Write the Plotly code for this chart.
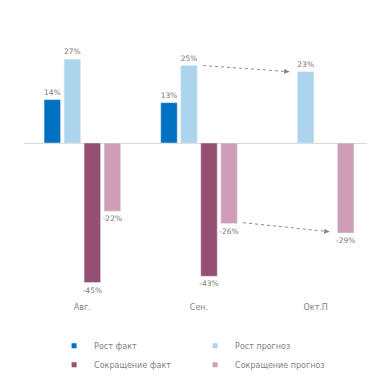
import plotly.graph_objects as go

categories = ["Авг.", "Сен.", "Окт.П"]
growth_fact = [14, 13, None]
growth_forecast = [27, 25, 23]
decline_fact = [-45, -43, None]
decline_forecast = [-22, -26, -29]

series_names = ["Рост факт", "Рост прогноз", "Сокращение факт", "Сокращение прогноз"]
series_values = [growth_fact, growth_forecast, decline_fact, decline_forecast]
colors = ["#0070C0", "#ABD5EC", "#954F72", "#CE9EB8"]

FONT = "DejaVu Sans"
TXT = "#7f7f7f"

x_idx = list(range(len(categories)))
fig = go.Figure()

for name, vals, col in zip(series_names, series_values, colors):
    fig.add_trace(go.Bar(
        x=x_idx, y=vals, name=name, marker_color=col, showlegend=False,
        text=[("" if v is None else f"{v}%") for v in vals],
        textposition="outside", cliponaxis=False, constraintext="none",
        textfont=dict(family=FONT, size=7.5, color="#777777"),
    ))
    fig.add_trace(go.Scatter(
        x=[None], y=[None], mode="markers", name=name,
        marker=dict(symbol="square", size=5, color=col),
    ))

# arrows between forecast bars (Sep -> Oct)
n = 4
slot = (1 - 0.314) / n
def bar_center(cat, series):
    return cat + (series - (n - 1) / 2) * slot

half = slot * (1 - 0.175) / 2
arrows = [
    (1, 1, growth_forecast[1], 2, 1, growth_forecast[2]),
    (1, 3, decline_forecast[1] + 0.3, 2, 3, decline_forecast[2] + 0.4),
]
for c0, s0, y0, c1, s1, y1 in arrows:
    x0 = bar_center(c0, s0) + half + 0.05
    x1 = bar_center(c1, s1) - half - 0.07
    fig.add_shape(type="line", x0=x0, y0=y0, x1=x1, y1=y1, xref="x", yref="y",
                  line=dict(color="#8c8c8c", width=1, dash="dot"))
    dx = (x1 - x0) * 0.05
    dy = (y1 - y0) * 0.05
    fig.add_annotation(x=x1, y=y1, ax=x1 - dx, ay=y1 - dy, axref="x", ayref="y",
                       xref="x", yref="y", text="", showarrow=True,
                       arrowhead=2, arrowsize=1, arrowwidth=1, arrowcolor="#7f7f7f",
                       standoff=0)

fig.update_layout(
    width=367, height=381,
    margin=dict(l=16, r=1, t=11, b=91, autoexpand=False),
    paper_bgcolor="white", plot_bgcolor="white",
    barmode="group", bargap=0.314, bargroupgap=0.175,
    font=dict(family=FONT, size=8, color=TXT),
    xaxis=dict(range=[-0.5, 2.5], tickvals=x_idx, ticktext=categories,
               showgrid=False, showline=False, zeroline=False, ticks="",
               automargin=False, ticklabelstandoff=3,
               tickfont=dict(family=FONT, size=8, color=TXT)),
    yaxis=dict(range=[-50, 40], showgrid=False, showticklabels=False,
               automargin=False,
               zeroline=True, zerolinecolor="#d9d9d9", zerolinewidth=1),
    legend=dict(orientation="h", x=0.086, y=-0.119, xanchor="left", yanchor="top",
                entrywidth=96, entrywidthmode="pixels", itemwidth=30,
                font=dict(family=FONT, size=8, color=TXT), bgcolor="rgba(0,0,0,0)"),
)

fig.write_html("out.html")
